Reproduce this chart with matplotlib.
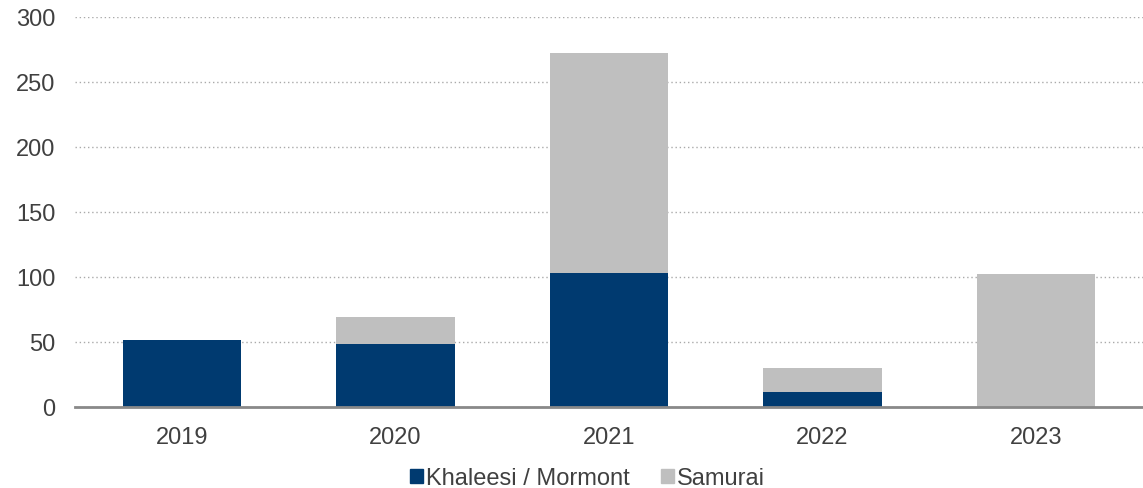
import matplotlib.pyplot as plt
from matplotlib.patches import Patch
import numpy as np

years = ['2019', '2020', '2021', '2022', '2023']
khaleesi = [51, 48, 103, 11.5, 0]
samurai = [0, 21, 169, 18.5, 102]

navy = '#003A70'
grey = '#BFBFBF'
txt = '#404040'

plt.rcParams['font.family'] = ['Liberation Sans', 'DejaVu Sans']

fig = plt.figure(figsize=(11.43, 4.89), dpi=100)
fig.patch.set_facecolor('white')
ax = fig.add_axes([0.0656, 0.1663, 0.9344, 0.7975])

x = np.arange(len(years))
w = 0.555
ax.bar(x, khaleesi, w, color=navy, label='Khaleesi / Mormont', zorder=3)
ax.bar(x, samurai, w, bottom=khaleesi, color=grey, label='Samurai', zorder=3)

ax.set_xlim(-0.5, 4.5)
ax.set_ylim(0, 300)
ax.set_yticks(range(0, 301, 50))
ax.set_xticks(x)
ax.set_xticklabels(years)
ax.yaxis.grid(True, linestyle=(0, (1, 2)), color='#AAAAAA', linewidth=1, zorder=0)
for s in ['top', 'right', 'left']:
    ax.spines[s].set_visible(False)
ax.spines['bottom'].set_color('#898989')
ax.spines['bottom'].set_linewidth(2)
ax.spines['bottom'].set_zorder(4)
ax.tick_params(axis='both', length=0, labelsize=17, labelcolor=txt)
ax.tick_params(axis='x', pad=14)
ax.tick_params(axis='y', pad=14)

handles = [Patch(color=navy, label='Khaleesi / Mormont'), Patch(color=grey, label='Samurai')]
fig.legend(handles=handles, loc='center', bbox_to_anchor=(0.514, 0.02), ncol=2, frameon=False,
           fontsize=17, handlelength=0.55, handleheight=0.55, handletextpad=0.15, columnspacing=1.3,
           labelcolor=txt)

fig.savefig('out.png', dpi=100)
